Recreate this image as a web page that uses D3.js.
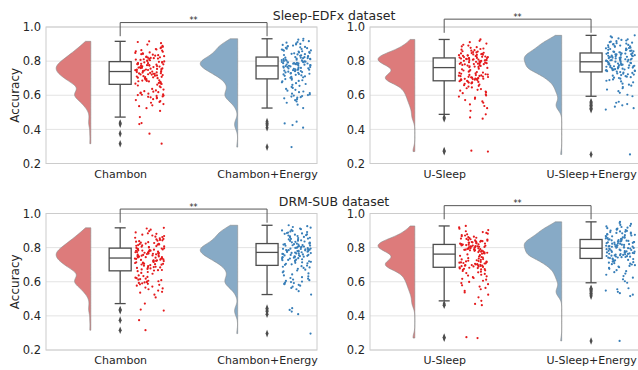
<!DOCTYPE html>
<html>
<head>
<meta charset="utf-8">
<script src="https://cdn.jsdelivr.net/npm/d3@7"></script>
<style>
	body { margin: 0; background: #fff; }
	svg text { font-family: 'DejaVu Sans', sans-serif; fill: #262626; }
</style>
</head>
<body>
<svg id="chart" width="638" height="370"></svg>
<script>
// --- data ---
const datasets = ['Sleep-EDFx dataset', 'DRM-SUB dataset'];
const chambonLabels = ['Chambon', 'Chambon+Energy'];
const usleepLabels = ['U-Sleep', 'U-Sleep+Energy'];
const yTicks = [0.2, 0.4, 0.6, 0.8, 1.0];
const significance = '**';

// per-recording accuracy (the reference draws the same values in both rows)
const chambon = [
	0.916, 0.912, 0.905, 0.897, 0.889, 0.884, 0.881, 0.876, 0.871, 0.868, 0.864, 0.862,
	0.858, 0.855, 0.851, 0.848, 0.845, 0.843, 0.841, 0.838, 0.835, 0.832, 0.829, 0.827,
	0.824, 0.822, 0.821, 0.819, 0.817, 0.815, 0.813, 0.811, 0.809, 0.807, 0.805, 0.803,
	0.801, 0.798, 0.796, 0.795, 0.793, 0.791, 0.789, 0.788, 0.786, 0.784, 0.783, 0.782,
	0.781, 0.779, 0.777, 0.776, 0.774, 0.773, 0.771, 0.770, 0.768, 0.767, 0.765, 0.764,
	0.762, 0.761, 0.759, 0.757, 0.756, 0.754, 0.753, 0.751, 0.750, 0.748, 0.747, 0.745,
	0.744, 0.742, 0.741, 0.739, 0.737, 0.736, 0.734, 0.733, 0.731, 0.729, 0.728, 0.726,
	0.725, 0.723, 0.722, 0.721, 0.718, 0.716, 0.714, 0.712, 0.710, 0.708, 0.706, 0.705,
	0.703, 0.701, 0.700, 0.697, 0.694, 0.691, 0.688, 0.686, 0.684, 0.682, 0.681, 0.678,
	0.675, 0.672, 0.669, 0.668, 0.666, 0.662, 0.657, 0.652, 0.647, 0.637, 0.633, 0.628,
	0.624, 0.621, 0.618, 0.615, 0.612, 0.609, 0.606, 0.603, 0.601, 0.598, 0.596, 0.593,
	0.591, 0.588, 0.585, 0.582, 0.577, 0.572, 0.566, 0.561, 0.556, 0.548, 0.541, 0.536,
	0.524, 0.508, 0.472, 0.437, 0.431, 0.375, 0.316
];
const chambonEnergy = [
	0.931, 0.926, 0.921, 0.917, 0.912, 0.908, 0.904, 0.901, 0.898, 0.895, 0.891, 0.888,
	0.885, 0.883, 0.881, 0.878, 0.876, 0.873, 0.871, 0.868, 0.866, 0.863, 0.861, 0.858,
	0.856, 0.853, 0.851, 0.848, 0.846, 0.843, 0.841, 0.839, 0.836, 0.834, 0.831, 0.829,
	0.827, 0.824, 0.823, 0.821, 0.820, 0.818, 0.817, 0.815, 0.814, 0.812, 0.811, 0.809,
	0.808, 0.806, 0.805, 0.803, 0.801, 0.799, 0.798, 0.797, 0.795, 0.794, 0.793, 0.792,
	0.790, 0.789, 0.788, 0.787, 0.786, 0.785, 0.784, 0.782, 0.781, 0.780, 0.779, 0.777,
	0.776, 0.775, 0.773, 0.771, 0.769, 0.768, 0.766, 0.765, 0.763, 0.762, 0.760, 0.758,
	0.757, 0.755, 0.754, 0.752, 0.750, 0.749, 0.747, 0.746, 0.744, 0.742, 0.741, 0.738,
	0.736, 0.734, 0.732, 0.730, 0.728, 0.726, 0.724, 0.722, 0.720, 0.717, 0.714, 0.711,
	0.708, 0.705, 0.702, 0.699, 0.695, 0.691, 0.688, 0.684, 0.681, 0.676, 0.671, 0.666,
	0.661, 0.655, 0.649, 0.643, 0.637, 0.632, 0.627, 0.622, 0.618, 0.613, 0.609, 0.605,
	0.601, 0.598, 0.595, 0.592, 0.589, 0.586, 0.582, 0.577, 0.571, 0.564, 0.556, 0.545,
	0.525, 0.445, 0.435, 0.425, 0.410, 0.296
];
const usleep = [
	0.927, 0.919, 0.911, 0.903, 0.896, 0.891, 0.886, 0.882, 0.878, 0.874, 0.871, 0.867,
	0.864, 0.861, 0.858, 0.856, 0.853, 0.851, 0.849, 0.847, 0.845, 0.843, 0.841, 0.839,
	0.838, 0.837, 0.835, 0.834, 0.833, 0.831, 0.830, 0.828, 0.827, 0.825, 0.824, 0.823,
	0.821, 0.819, 0.818, 0.817, 0.816, 0.815, 0.813, 0.812, 0.811, 0.809, 0.808, 0.807,
	0.806, 0.805, 0.804, 0.802, 0.801, 0.799, 0.797, 0.796, 0.794, 0.793, 0.791, 0.790,
	0.788, 0.787, 0.785, 0.784, 0.783, 0.782, 0.781, 0.778, 0.776, 0.774, 0.772, 0.770,
	0.768, 0.766, 0.764, 0.760, 0.756, 0.752, 0.748, 0.745, 0.742, 0.738, 0.736, 0.733,
	0.731, 0.728, 0.726, 0.723, 0.721, 0.719, 0.718, 0.716, 0.715, 0.713, 0.712, 0.710,
	0.708, 0.707, 0.705, 0.703, 0.701, 0.699, 0.698, 0.697, 0.696, 0.695, 0.694, 0.693,
	0.691, 0.690, 0.689, 0.687, 0.684, 0.682, 0.680, 0.678, 0.676, 0.674, 0.672, 0.670,
	0.667, 0.663, 0.659, 0.655, 0.651, 0.646, 0.641, 0.636, 0.632, 0.627, 0.622, 0.617,
	0.612, 0.606, 0.599, 0.592, 0.586, 0.579, 0.572, 0.564, 0.556, 0.546, 0.537, 0.524,
	0.509, 0.488, 0.470, 0.463, 0.275, 0.270
];
const usleepEnergy = [
	0.951, 0.945, 0.939, 0.933, 0.928, 0.924, 0.921, 0.917, 0.914, 0.911, 0.908, 0.905,
	0.903, 0.900, 0.898, 0.895, 0.893, 0.891, 0.888, 0.886, 0.884, 0.882, 0.879, 0.877,
	0.875, 0.873, 0.871, 0.868, 0.866, 0.864, 0.862, 0.860, 0.858, 0.856, 0.854, 0.852,
	0.850, 0.848, 0.847, 0.845, 0.844, 0.843, 0.841, 0.840, 0.839, 0.837, 0.836, 0.835,
	0.833, 0.832, 0.831, 0.829, 0.828, 0.826, 0.825, 0.823, 0.822, 0.820, 0.819, 0.817,
	0.816, 0.814, 0.813, 0.811, 0.809, 0.808, 0.807, 0.806, 0.805, 0.803, 0.802, 0.801,
	0.800, 0.798, 0.797, 0.795, 0.793, 0.791, 0.790, 0.788, 0.786, 0.784, 0.783, 0.781,
	0.779, 0.778, 0.776, 0.775, 0.773, 0.772, 0.770, 0.769, 0.767, 0.766, 0.764, 0.763,
	0.762, 0.761, 0.759, 0.757, 0.756, 0.754, 0.753, 0.751, 0.750, 0.748, 0.747, 0.745,
	0.744, 0.742, 0.741, 0.739, 0.736, 0.733, 0.731, 0.728, 0.726, 0.723, 0.721, 0.718,
	0.715, 0.712, 0.709, 0.706, 0.703, 0.701, 0.697, 0.693, 0.689, 0.685, 0.681, 0.676,
	0.668, 0.662, 0.656, 0.648, 0.641, 0.633, 0.624, 0.614, 0.603, 0.594, 0.562, 0.556,
	0.548, 0.541, 0.533, 0.524, 0.516, 0.253
];

// --- styling / layout ---
const grey = '#4d4d4d';
const violinFill = ['#dd7b7b', '#87aac6'];
const dotFill = ['#e41a1c', '#377eb8'];

const rowBoxes = [
	{top: 27, bottom: 163.5, titleY: 19.5},
	{top: 213.5, bottom: 350, titleY: 205.5}
];
const colBoxes = [
	{left: 46, right: 317},
	{left: 370, right: 641}
];

const svg = d3.select('#chart');

let panels = [];
datasets.forEach(function(name, r) {
	panels.push({row: r, col: 0, labels: chambonLabels, groups: [chambon, chambonEnergy]});
	panels.push({row: r, col: 1, labels: usleepLabels, groups: [usleep, usleepEnergy]});
});

// gaussian kde, cut at the data range (seaborn cut=0)
function kde(values, factor) {
	let n = values.length;
	let bw = factor * d3.deviation(values);
	let lo = d3.min(values);
	let hi = d3.max(values);
	let norm = 1 / (n * bw * Math.sqrt(2 * Math.PI));

	return d3.range(140).map(function(i) {
		let v = lo + (hi - lo) * i / 139;
		let dens = d3.sum(values, function(d) {
			let z = (v - d) / bw;
			return Math.exp(-0.5 * z * z);
		});
		return [v, dens * norm];
	});
}

function boxStats(values) {
	let s = values.slice().sort(d3.ascending);
	let q1 = d3.quantile(s, 0.25);
	let med = d3.quantile(s, 0.5);
	let q3 = d3.quantile(s, 0.75);
	let iqr = q3 - q1;
	let inside = s.filter(function(d) {
		return d >= q1 - 1.5 * iqr && d <= q3 + 1.5 * iqr;
	});
	return {
		q1: q1, med: med, q3: q3,
		lo: d3.min(inside), hi: d3.max(inside),
		out: s.filter(function(d) {
			return d < q1 - 1.5 * iqr || d > q3 + 1.5 * iqr;
		})
	};
}

function drawPanel(p, idx) {
	let rb = rowBoxes[p.row];
	let cb = colBoxes[p.col];

	let x = d3.scaleLinear().domain([-0.505, 1.34]).range([cb.left, cb.right]);
	let y = d3.scaleLinear().domain([0.2, 1.0]).range([rb.bottom, rb.top]);

	let g = svg.append('g');

	g.selectAll('.grid')
		.data(yTicks)
		.enter()
		.append('line')
		.attr('x1', cb.left)
		.attr('x2', cb.right)
		.attr('y1', function(d) { return y(d); })
		.attr('y2', function(d) { return y(d); })
		.attr('stroke', '#e3e3e3')
		.attr('stroke-width', 1);

	g.append('rect')
		.attr('x', cb.left)
		.attr('y', rb.top)
		.attr('width', cb.right - cb.left)
		.attr('height', rb.bottom - rb.top)
		.attr('fill', 'none')
		.attr('stroke', '#cccccc')
		.attr('stroke-width', 1);

	let yAxis = g.append('g')
		.attr('transform', 'translate(' + cb.left + ',0)')
		.call(d3.axisLeft(y).tickValues(yTicks).tickFormat(d3.format('.1f')).tickSize(0).tickPadding(5));
	yAxis.select('.domain').remove();
	yAxis.selectAll('text').attr('font-size', 11.5).attr('font-family', null);

	let xAxis = g.append('g')
		.attr('transform', 'translate(0,' + rb.bottom + ')')
		.call(d3.axisBottom(x).tickValues([0, 1]).tickFormat(function(i) { return p.labels[i]; }).tickSize(0).tickPadding(6.4));
	xAxis.select('.domain').remove();
	xAxis.selectAll('text').attr('font-size', 11).attr('font-family', null);

	if (p.col == 0) {
		g.append('text')
			.attr('transform', 'translate(18.5,' + (rb.top + rb.bottom) / 2 + ') rotate(-90)')
			.attr('text-anchor', 'middle')
			.attr('font-size', 12)
			.text('Accuracy');
	}

	// half violins
	let kdes = p.groups.map(function(v) { return kde(v, 0.22); });
	let maxD = d3.max(kdes, function(k) { return d3.max(k, function(d) { return d[1]; }); });
	let w = d3.scaleLinear().domain([0, maxD]).range([0, 0.255]);

	kdes.forEach(function(k, i) {
		let edge = i - 0.2;
		g.append('path')
			.datum(k)
			.attr('d', d3.area()
				.curve(d3.curveBasis)
				.y(function(d) { return y(d[0]); })
				.x0(x(edge))
				.x1(function(d) { return x(edge - w(d[1])); }))
			.attr('fill', violinFill[i])
			.attr('stroke', '#8a8a8a')
			.attr('stroke-width', 0.6);
	});

	// boxes
	let stats = p.groups.map(boxStats);
	stats.forEach(function(s, i) {
		let cx = x(i);
		let hw = (x(0.075) - x(0));
		g.append('line')
			.attr('x1', cx).attr('x2', cx)
			.attr('y1', y(s.hi)).attr('y2', y(s.q3))
			.attr('stroke', grey).attr('stroke-width', 1.3);
		g.append('line')
			.attr('x1', cx).attr('x2', cx)
			.attr('y1', y(s.q1)).attr('y2', y(s.lo))
			.attr('stroke', grey).attr('stroke-width', 1.3);
		[s.hi, s.lo].forEach(function(v) {
			g.append('line')
				.attr('x1', cx - hw / 2).attr('x2', cx + hw / 2)
				.attr('y1', y(v)).attr('y2', y(v))
				.attr('stroke', grey).attr('stroke-width', 1.3);
		});
		g.append('rect')
			.attr('x', cx - hw)
			.attr('y', y(s.q3))
			.attr('width', 2 * hw)
			.attr('height', y(s.q1) - y(s.q3))
			.attr('fill', '#fff')
			.attr('stroke', grey)
			.attr('stroke-width', 1.3);
		g.append('line')
			.attr('x1', cx - hw).attr('x2', cx + hw)
			.attr('y1', y(s.med)).attr('y2', y(s.med))
			.attr('stroke', grey).attr('stroke-width', 1.3);

		g.selectAll('.out' + i)
			.data(s.out)
			.enter()
			.append('path')
			.attr('d', d3.symbol().type(d3.symbolDiamond).size(14))
			.attr('transform', function(d) {
				return 'translate(' + cx + ',' + y(d) + ') scale(0.75,1.1)';
			})
			.attr('fill', grey);
	});

	// rain: jittered points
	p.groups.forEach(function(vals, i) {
		let jitter = d3.randomUniform.source(d3.randomLcg(0.17 + idx * 0.13 + i * 0.29))(-0.1, 0.1);
		g.selectAll('.dot' + i)
			.data(vals)
			.enter()
			.append('circle')
			.attr('cx', function() { return x(i + 0.2 + jitter()); })
			.attr('cy', function(d) { return y(d); })
			.attr('r', 1.1)
			.attr('fill', dotFill[i]);
	});

	// significance bracket
	let top = d3.max(stats, function(s) { return s.hi; });
	let legY = y(top + 0.015);
	let barY = y(top + 0.095);
	g.append('path')
		.attr('d', d3.line()([[x(0), legY], [x(0), barY], [x(1), barY], [x(1), legY]]))
		.attr('fill', 'none')
		.attr('stroke', '#555')
		.attr('stroke-width', 1);
	g.append('text')
		.attr('x', (x(0) + x(1)) / 2)
		.attr('y', barY + 0.5)
		.attr('text-anchor', 'middle')
		.attr('font-size', 8)
		.text(significance);
}

datasets.forEach(function(name, r) {
	svg.append('text')
		.attr('x', 334)
		.attr('y', rowBoxes[r].titleY)
		.attr('text-anchor', 'middle')
		.attr('font-size', 12.5)
		.text(name);
});

panels.forEach(drawPanel);
</script>
</body>
</html>
